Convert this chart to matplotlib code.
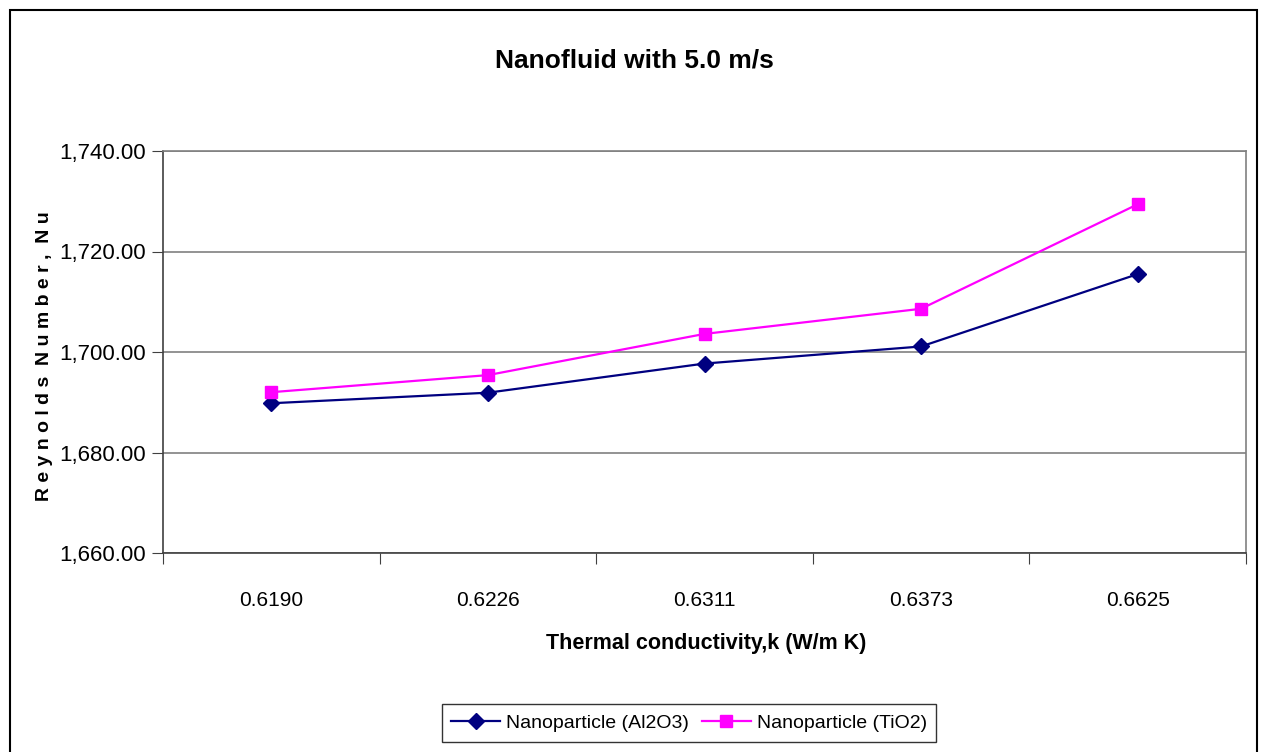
import matplotlib
matplotlib.use("Agg")
import matplotlib.pyplot as plt
import matplotlib.ticker as mticker
from matplotlib.patches import Rectangle

plt.rcParams['font.family'] = ['Liberation Sans Narrow', 'Liberation Sans', 'DejaVu Sans']

# k values and Nu for each nanofluid
conductivity = ["0.6190", "0.6226", "0.6311", "0.6373", "0.6625"]
nu_al2o3 = [1689.8, 1691.9, 1697.7, 1701.1, 1715.5]
nu_tio2 = [1692.0, 1695.4, 1703.6, 1708.6, 1729.4]

fig = plt.figure(figsize=(12.67, 7.52), dpi=100)
ax = fig.add_axes([163 / 1267, 1 - 553 / 752, (1246 - 163) / 1267, (553 - 151) / 752])

xs = list(range(len(conductivity)))
ax.plot(xs, nu_al2o3, color="#000080", lw=1.6, marker="D", ms=8,
        label="Nanoparticle (Al2O3)")
ax.plot(xs, nu_tio2, color="#FF00FF", lw=1.6, marker="s", ms=8,
        label="Nanoparticle (TiO2)")

ax.set_xlim(-0.5, len(conductivity) - 0.5)
ax.set_ylim(1660, 1740)
ax.set_yticks([1660, 1680, 1700, 1720, 1740])
ax.yaxis.set_major_formatter(mticker.FuncFormatter(lambda v, p: f"{v:,.2f}"))
ax.grid(axis="y", color="#808080", lw=1.2)
ax.set_axisbelow(True)

# category labels centred, tick marks on the boundaries
ax.set_xticks([i - 0.5 for i in range(len(conductivity) + 1)])
ax.set_xticklabels([])
ax.set_xticks(xs, minor=True)
ax.set_xticklabels(conductivity, minor=True)
ax.tick_params(axis="x", which="minor", length=0, pad=27, labelsize=15)
ax.tick_params(axis="x", which="major", direction="out", length=8, color="#404040")
ax.tick_params(axis="y", direction="out", length=8, labelsize=16, pad=4, color="#404040")

for side in ["top", "right"]:
    ax.spines[side].set_color("#808080")
    ax.spines[side].set_linewidth(1.2)
for side in ["left", "bottom"]:
    ax.spines[side].set_color("#404040")
    ax.spines[side].set_linewidth(1.2)

fig.text(634 / 1267, 1 - 61 / 752, "Nanofluid with 5.0 m/s", ha="center", va="center",
         fontsize=19, fontweight="bold")
fig.text(706 / 1267, 1 - 644 / 752, "Thermal conductivity,k (W/m K)", ha="center",
         va="center", fontsize=15.5, fontweight="bold")
fig.text(45 / 1267, 1 - 356 / 752, "R e y n o l d s  N u m b e r ,  N u", ha="center",
         va="center", rotation=90, fontsize=14, fontweight="bold")

leg = fig.legend(loc="center", bbox_to_anchor=(689 / 1267, 1 - 723 / 752), ncol=2,
                 fontsize=14, frameon=True, fancybox=False, edgecolor="black",
                 handlelength=2.5, handletextpad=0.3, columnspacing=0.7, borderpad=0.5)
leg.get_frame().set_linewidth(1.0)

# black frame round the whole chart
fig.patches.append(Rectangle((10 / 1267, -0.02), 1247 / 1267, 1 - 10 / 752 + 0.02,
                             transform=fig.transFigure, fill=False, ec="black", lw=1.5))

fig.savefig("out.png", dpi=100)
